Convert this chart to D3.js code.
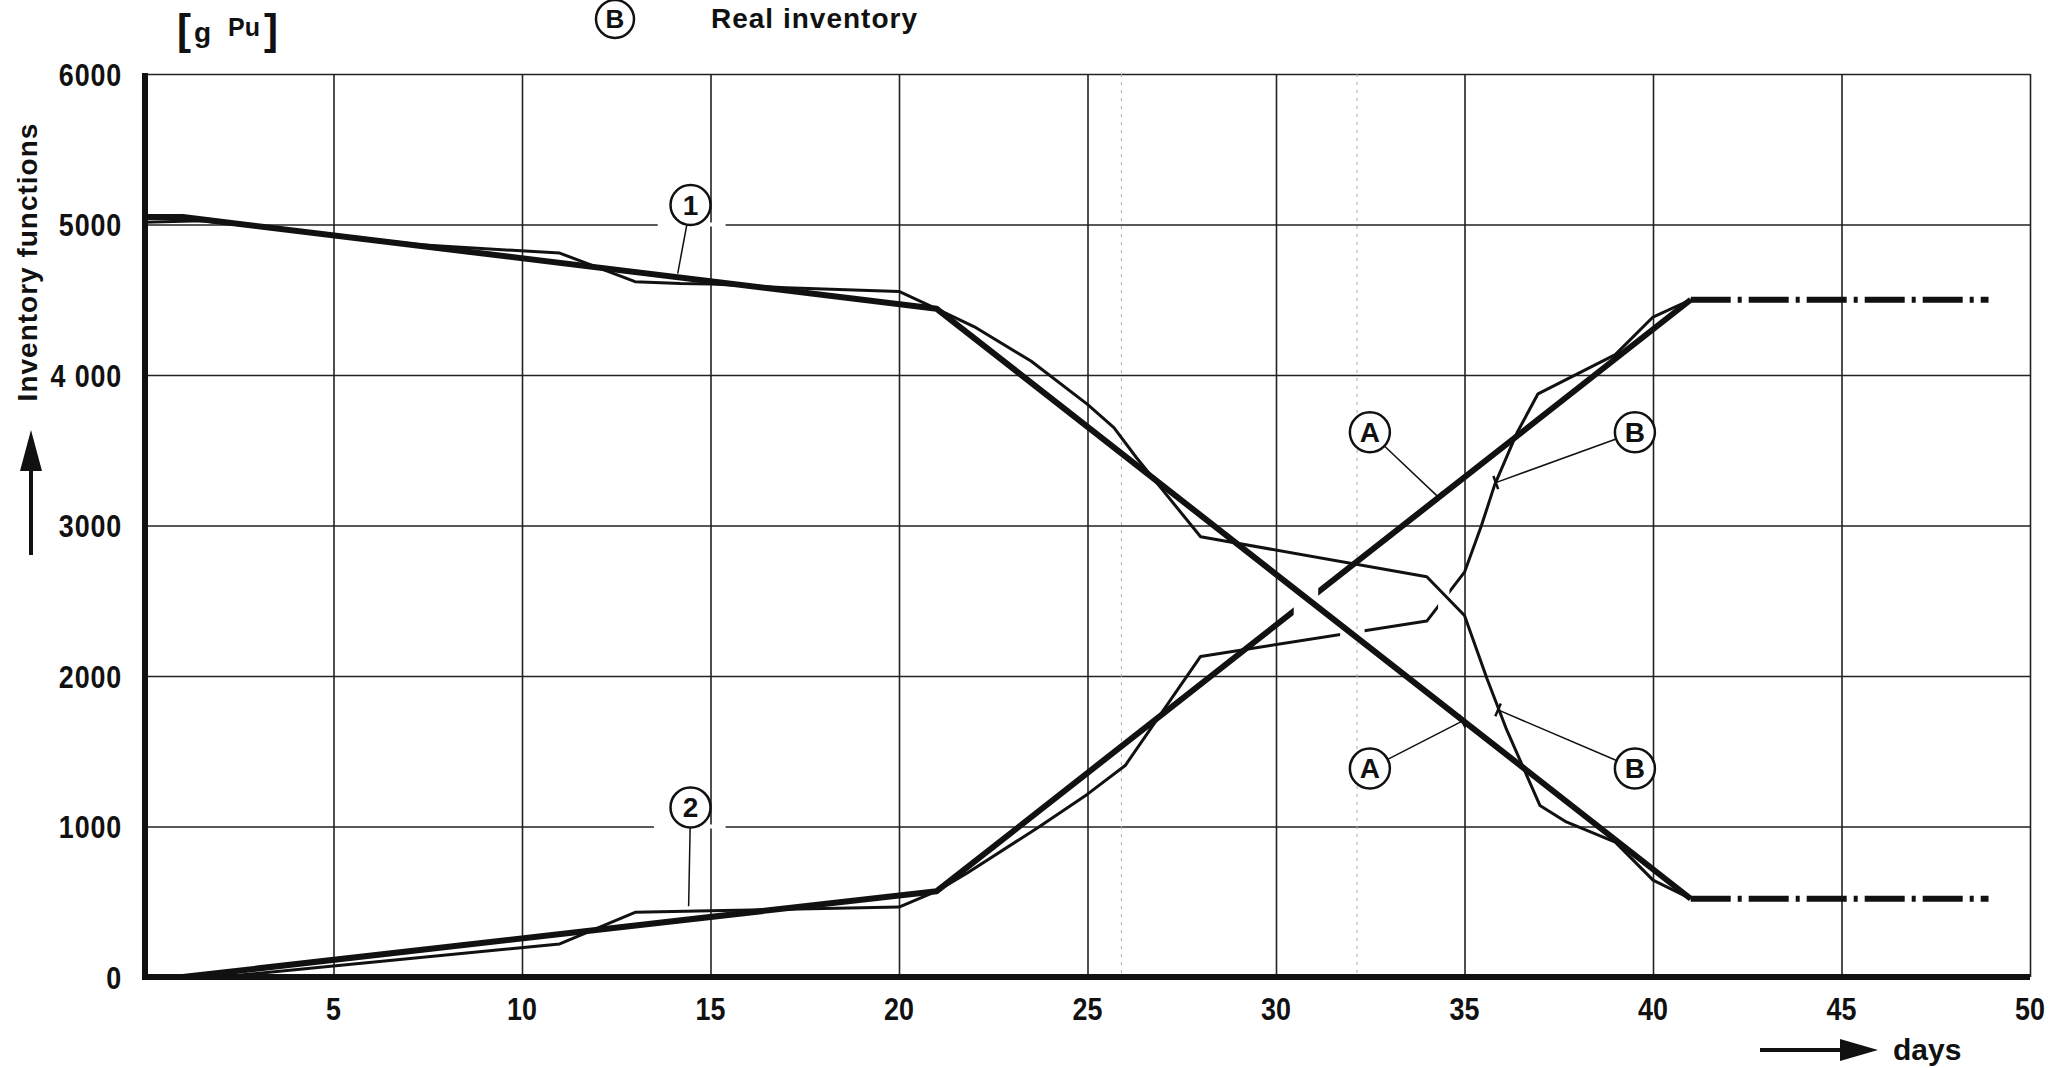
<!DOCTYPE html>
<html>
<head>
<meta charset="utf-8">
<script src="https://cdn.jsdelivr.net/npm/d3@7"></script>
<style>
  body { margin: 0; background: #fff; }
  svg { display: block; }
  text { font-family: "Liberation Sans", Arial, sans-serif; font-weight: bold; fill: #111; }
</style>
</head>
<body>
<svg id="chart"></svg>
<script>
// chart size
const width = 2051;
const height = 1068;
const marginTop = 74;
const marginLeft = 145;
const marginRight = 19;
const marginBottom = 91;

// ---- data (day, g Pu) ----
const bookOut = [[0, 5050], [1, 5050], [21, 4440], [41, 520]];          // (1) book, thick
const bookOutTail = [[41, 520], [48.9, 520]];
const realOut = [[0, 5015], [1.5, 5025], [5, 4930], [7.3, 4865], [11, 4810], [13, 4620],
  [14.2, 4608], [15, 4605], [17, 4580], [20, 4555], [21, 4440], [22, 4320], [23.5, 4093],
  [25, 3805], [25.7, 3650], [26.3, 3450], [28, 2925], [34, 2660], [35, 2402], [35.6, 1980],
  [36.1, 1654], [37, 1140], [37.7, 1030], [39, 896], [40, 644], [41, 520]];
const bookIn = [[1, 0], [21, 570], [41, 4500]];                          // (2) book, thick
const bookInTail = [[41, 4500], [48.9, 4500]];
const realIn = [[2, 0], [11, 220], [13, 430], [15, 440], [20, 465], [21, 570], [21.8, 690],
  [23.7, 995], [25, 1215], [26, 1405], [28, 2130], [34, 2365], [35, 2690], [35.45, 3000],
  [35.8, 3270], [36.4, 3620], [36.95, 3875], [39, 4135], [40, 4385], [41, 4500]];

// pen lifts where lines cross (day ranges)
const bookInGaps = [[30.47, 31.12]];
const realInGaps = [[31.7, 32.35], [34.3, 34.6]];

// axis ticks
const xTicks = [5, 10, 15, 20, 25, 30, 35, 40, 45, 50];
const yTicks = [0, 1000, 2000, 3000, 4000, 5000, 6000];
const yTickLabels = ["0", "1000", "2000", "3000", "4 000", "5000", "6000"];
const foldDays = [25.9, 32.15];

// circled labels and leaders
const labelText = ["1", "2", "A", "B", "A", "B"];
const labelDay = [14.47, 14.47, 32.49, 39.52, 32.49, 39.52];
const labelValue = [5130, 1127, 3620, 3620, 1386, 1386];
const leaderDay = [14.13, 14.42, 34.3, 35.83, 34.94, 35.89];
const leaderValue = [4674, 470, 3190, 3285, 1700, 1775];
const gridGaps = [[13.6, 15.4, 5000], [13.5, 15.4, 1000]];

const x = d3.scaleLinear().domain([0, 50]).range([marginLeft, width - marginRight - 2]);
const y = d3.scaleLinear().domain([0, 6000]).range([height - marginBottom, marginTop]);

const svg = d3.select("#chart")
  .attr("width", width)
  .attr("height", height)
  .attr("viewBox", [0, 0, width, height]);

const defs = svg.append("defs");

// grid
svg.append("g")
  .attr("transform", `translate(0,${y(0)})`)
  .call(d3.axisBottom(x).tickValues(xTicks).tickSize(-(y(0) - y(6000))).tickFormat(""))
  .call(g => g.select(".domain").remove())
  .call(g => g.selectAll("line").attr("stroke", "#222").attr("stroke-width", 1.6));

svg.append("g")
  .attr("transform", `translate(${x(0)},0)`)
  .call(d3.axisLeft(y).tickValues(yTicks.slice(1)).tickSize(-(x(50) - x(0))).tickFormat(""))
  .call(g => g.select(".domain").remove())
  .call(g => g.selectAll("line").attr("stroke", "#222").attr("stroke-width", 1.6));

// faint fold marks of the scanned sheet
svg.append("g")
  .selectAll("line")
  .data(foldDays)
  .join("line")
  .attr("x1", d => x(d)).attr("x2", d => x(d))
  .attr("y1", y(6000)).attr("y2", y(0))
  .attr("stroke", "#aaa").attr("stroke-width", 1).attr("stroke-dasharray", "3,5");

// gaps in the grid behind circled numbers
svg.append("g")
  .selectAll("line")
  .data(gridGaps)
  .join("line")
  .attr("x1", d => x(d[0])).attr("x2", d => x(d[1]))
  .attr("y1", d => y(d[2])).attr("y2", d => y(d[2]))
  .attr("stroke", "#fff").attr("stroke-width", 4);

// tick labels (squeezed to look like the stencil lettering)
svg.append("g")
  .selectAll("text")
  .data(yTicks)
  .join("text")
  .attr("transform", d => `translate(122,${y(d)}) scale(0.84,1)`)
  .attr("dy", "0.36em")
  .attr("text-anchor", "end")
  .attr("font-size", 32)
  .attr("letter-spacing", 1)
  .text((d, i) => yTickLabels[i]);

svg.append("g")
  .selectAll("text")
  .data(xTicks)
  .join("text")
  .attr("transform", d => `translate(${x(d)},1020) scale(0.84,1)`)
  .attr("text-anchor", "middle")
  .attr("font-size", 32)
  .text(d => d);

// clip paths that leave out pen lifts
function gapClip(id, gaps) {
  const cp = defs.append("clipPath").attr("id", id);
  let start = -2;
  gaps.concat([[52, 52]]).forEach(g => {
    cp.append("rect")
      .attr("x", x(start)).attr("width", x(g[0]) - x(start))
      .attr("y", 0).attr("height", height);
    start = g[1];
  });
  return `url(#${id})`;
}

const line = d3.line().x(d => x(d[0])).y(d => y(d[1]));

const curves = svg.append("g").attr("fill", "none").attr("stroke", "#111")
  .attr("stroke-linejoin", "round");

curves.append("path").attr("d", line(realOut)).attr("stroke-width", 3);
curves.append("path").attr("d", line(realIn)).attr("stroke-width", 3)
  .attr("clip-path", gapClip("gapRealIn", realInGaps));
curves.append("path").attr("d", line(bookOut)).attr("stroke-width", 6);
curves.append("path").attr("d", line(bookIn)).attr("stroke-width", 6)
  .attr("clip-path", gapClip("gapBookIn", bookInGaps));

[bookOutTail, bookInTail].forEach(t => {
  curves.append("path").attr("d", line(t))
    .attr("stroke-width", 6)
    .attr("stroke-dasharray", "40,7,4,7");
});

// axes (heavy frame lines)
svg.append("line")
  .attr("x1", x(0)).attr("x2", x(0)).attr("y1", y(6000) - 1).attr("y2", y(0) + 3)
  .attr("stroke", "#111").attr("stroke-width", 6);
svg.append("line")
  .attr("x1", x(0) - 3).attr("x2", x(50)).attr("y1", y(0)).attr("y2", y(0))
  .attr("stroke", "#111").attr("stroke-width", 6);

// leaders and circled labels
const r = 20;
const labels = svg.append("g");
labelText.forEach((t, i) => {
  const cx = x(labelDay[i]), cy = y(labelValue[i]);
  const ex = x(leaderDay[i]), ey = y(leaderValue[i]);
  const dx = ex - cx, dy = ey - cy, len = Math.hypot(dx, dy);
  const ux = dx / len, uy = dy / len;
  labels.append("line")
    .attr("x1", cx + ux * r).attr("y1", cy + uy * r)
    .attr("x2", ex).attr("y2", ey)
    .attr("stroke", "#111").attr("stroke-width", 1.5);
  if (t === "A" || t === "B") {
    labels.append("line")
      .attr("x1", ex - uy * 7).attr("y1", ey + ux * 7)
      .attr("x2", ex + uy * 7).attr("y2", ey - ux * 7)
      .attr("stroke", "#111").attr("stroke-width", 2.5);
  }
  labels.append("circle")
    .attr("cx", cx).attr("cy", cy).attr("r", r)
    .attr("fill", "#fff").attr("stroke", "#111").attr("stroke-width", 2.5);
  labels.append("text")
    .attr("x", cx).attr("y", cy).attr("dy", "0.36em")
    .attr("text-anchor", "middle").attr("font-size", 28)
    .text(t);
});

// header: unit and legend entry
svg.append("text").attr("x", 177).attr("y", 44).attr("font-size", 42).attr("font-weight", "normal").text("[");
svg.append("text").attr("x", 194).attr("y", 42).attr("font-size", 28).text("g");
svg.append("text").attr("x", 228).attr("y", 36).attr("font-size", 25).text("Pu");
svg.append("text").attr("x", 264).attr("y", 44).attr("font-size", 42).attr("font-weight", "normal").text("]");

svg.append("circle").attr("cx", 615).attr("cy", 19).attr("r", 19)
  .attr("fill", "#fff").attr("stroke", "#111").attr("stroke-width", 2.5);
svg.append("text").attr("x", 615).attr("y", 19).attr("dy", "0.36em")
  .attr("text-anchor", "middle").attr("font-size", 26).text("B");
svg.append("text").attr("x", 711).attr("y", 28).attr("font-size", 28)
  .attr("letter-spacing", 1).text("Real inventory");

// y title with arrow
svg.append("text")
  .attr("transform", "translate(37,262) rotate(-90)")
  .attr("text-anchor", "middle").attr("font-size", 28).attr("letter-spacing", 1)
  .text("Inventory functions");
svg.append("line").attr("x1", 31).attr("x2", 31).attr("y1", 555).attr("y2", 466)
  .attr("stroke", "#111").attr("stroke-width", 4);
svg.append("path").attr("d", "M20,471L42,471L31,430Z").attr("fill", "#111");

// x title with arrow
svg.append("line").attr("x1", 1760).attr("x2", 1842).attr("y1", 1050).attr("y2", 1050)
  .attr("stroke", "#111").attr("stroke-width", 4);
svg.append("path").attr("d", "M1840,1039L1840,1061L1878,1050Z").attr("fill", "#111");
svg.append("text").attr("x", 1893).attr("y", 1060).attr("font-size", 30).text("days");
</script>
</body>
</html>
